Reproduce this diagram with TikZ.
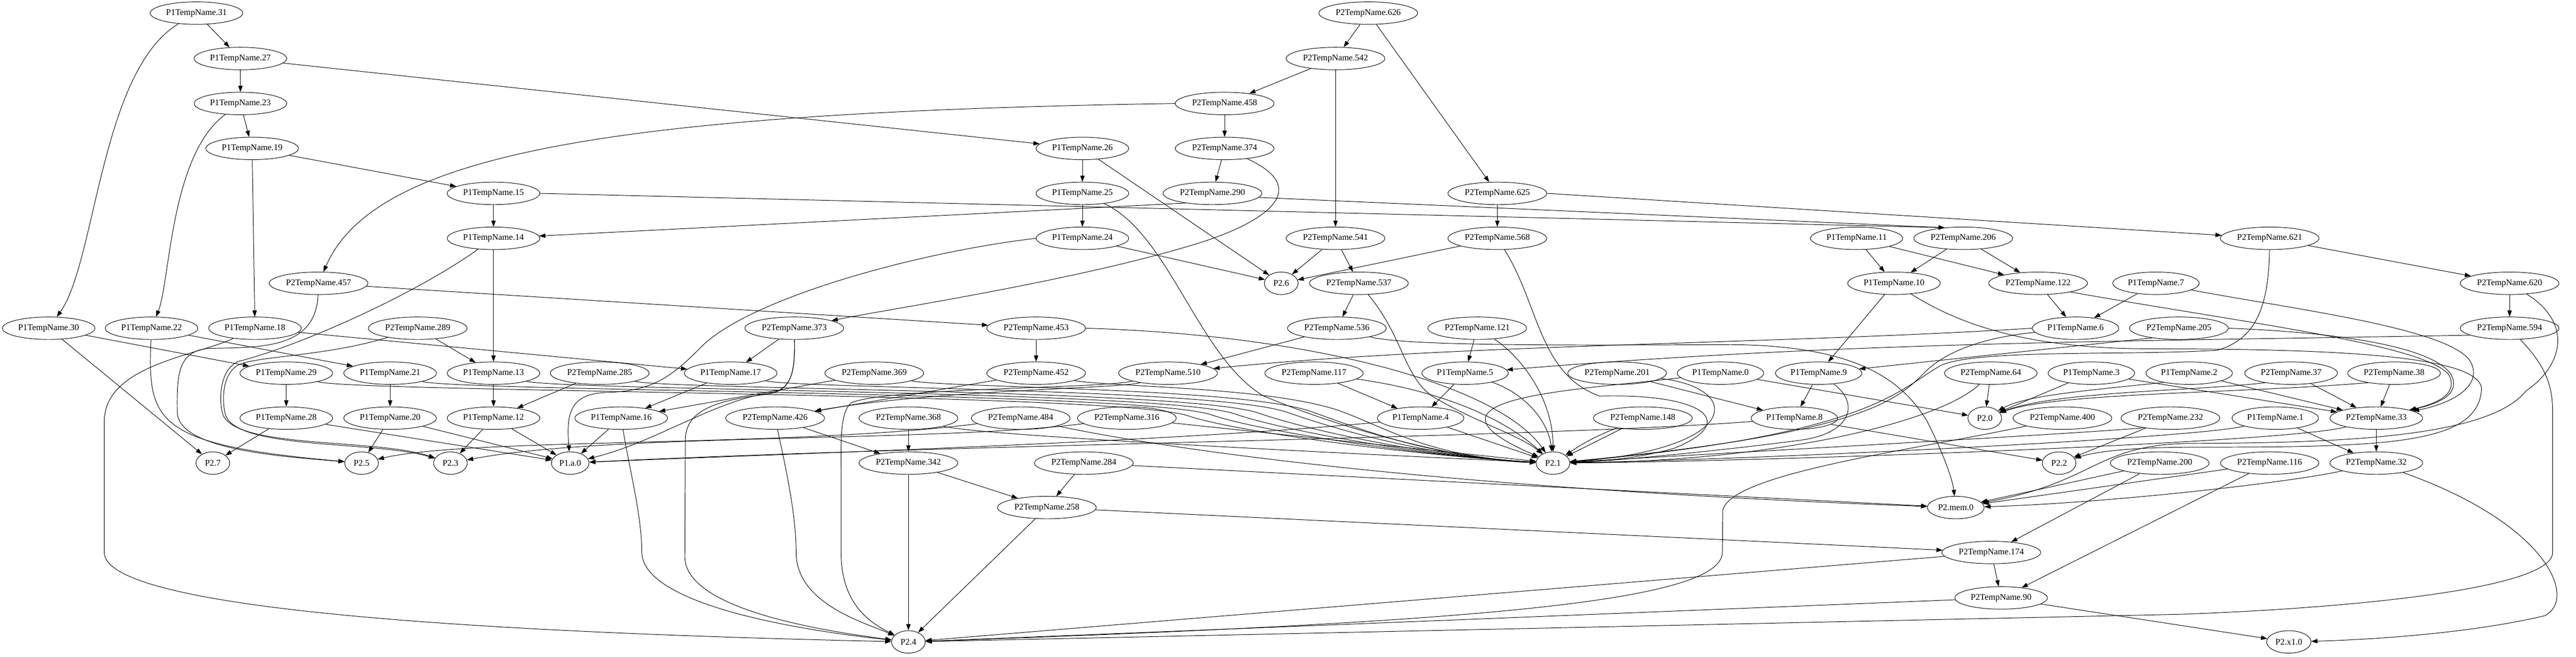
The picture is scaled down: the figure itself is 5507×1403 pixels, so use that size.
\documentclass[tikz,border=0pt]{standalone}
\usepackage{fontspec}
\setmainfont{Liberation Serif}
\usetikzlibrary{shapes.geometric,arrows.meta}
\tikzset{
  vtx/.style={ellipse, draw, line width=0.8pt, minimum width=54pt, minimum height=36pt,
    inner xsep=3.8pt, inner ysep=0pt, font=\fontsize{14pt}{16pt}\selectfont},
  flow/.style={line width=0.8pt, -{Triangle[length=10pt,width=7pt]}}
}
\begin{document}
\begin{tikzpicture}[x=0.75pt,y=-0.75pt]
\useasboundingbox (0,0) rectangle (5507,1403);
\fill [white] (0,0) rectangle (5507,1403);
\node [vtx] (a31) at (420,28) {P1TempName.31};
\node [vtx] (b626) at (2925,28) {P2TempName.626};
\node [vtx] (a27) at (514,125) {P1TempName.27};
\node [vtx] (b542) at (2855,125) {P2TempName.542};
\node [vtx] (a23) at (514,221) {P1TempName.23};
\node [vtx] (b458) at (2618,221) {P2TempName.458};
\node [vtx] (a19) at (539,317) {P1TempName.19};
\node [vtx] (a26) at (2314,317) {P1TempName.26};
\node [vtx] (b374) at (2618,317) {P2TempName.374};
\node [vtx] (a15) at (1055,413) {P1TempName.15};
\node [vtx] (a25) at (2314,413) {P1TempName.25};
\node [vtx] (b290) at (2592,413) {P2TempName.290};
\node [vtx] (b625) at (3201,413) {P2TempName.625};
\node [vtx] (a14) at (1055,509) {P1TempName.14};
\node [vtx] (a24) at (2314,509) {P1TempName.24};
\node [vtx] (b541) at (2855,509) {P2TempName.541};
\node [vtx] (b568) at (3201,509) {P2TempName.568};
\node [vtx] (a11) at (3969,509) {P1TempName.11};
\node [vtx] (b206) at (4197,509) {P2TempName.206};
\node [vtx] (b621) at (4852,509) {P2TempName.621};
\node [vtx] (b457) at (681,605) {P2TempName.457};
\node [vtx] (s6) at (2739,605) {P2.6};
\node [vtx] (b537) at (2905,605) {P2TempName.537};
\node [vtx] (a10) at (4049,605) {P1TempName.10};
\node [vtx] (b122) at (4357,605) {P2TempName.122};
\node [vtx] (a7) at (4609,605) {P1TempName.7};
\node [vtx] (b620) at (5365,605) {P2TempName.620};
\node [vtx] (a30) at (104,701) {P1TempName.30};
\node [vtx] (a22) at (324,701) {P1TempName.22};
\node [vtx] (a18) at (545,701) {P1TempName.18};
\node [vtx] (b289) at (893,701) {P2TempName.289};
\node [vtx] (b373) at (1698,701) {P2TempName.373};
\node [vtx] (b453) at (2215,701) {P2TempName.453};
\node [vtx] (b536) at (2858,701) {P2TempName.536};
\node [vtx] (b121) at (3158,701) {P2TempName.121};
\node [vtx] (a6) at (4437,701) {P1TempName.6};
\node [vtx] (b205) at (4658,701) {P2TempName.205};
\node [vtx] (b594) at (5365,701) {P2TempName.594};
\node [vtx] (a29) at (612,797) {P1TempName.29};
\node [vtx] (a21) at (834,797) {P1TempName.21};
\node [vtx] (a13) at (1055,797) {P1TempName.13};
\node [vtx] (b285) at (1282,797) {P2TempName.285};
\node [vtx] (a17) at (1562,797) {P1TempName.17};
\node [vtx] (b369) at (1869,797) {P2TempName.369};
\node [vtx] (b452) at (2215,797) {P2TempName.452};
\node [vtx] (b510) at (2497,797) {P2TempName.510};
\node [vtx] (b117) at (2809,797) {P2TempName.117};
\node [vtx] (a5) at (3132,797) {P1TempName.5};
\node [vtx] (b201) at (3457,797) {P2TempName.201};
\node [vtx] (a0) at (3678,797) {P1TempName.0};
\node [vtx] (a9) at (3888,797) {P1TempName.9};
\node [vtx] (b64) at (4256,797) {P2TempName.64};
\node [vtx] (a3) at (4471,797) {P1TempName.3};
\node [vtx] (a2) at (4680,797) {P1TempName.2};
\node [vtx] (b37) at (4898,797) {P2TempName.37};
\node [vtx] (b38) at (5118,797) {P2TempName.38};
\node [vtx] (a28) at (612,893) {P1TempName.28};
\node [vtx] (a20) at (834,893) {P1TempName.20};
\node [vtx] (a12) at (1055,893) {P1TempName.12};
\node [vtx] (a16) at (1328,893) {P1TempName.16};
\node [vtx] (b426) at (1657,893) {P2TempName.426};
\node [vtx] (b368) at (1942,893) {P2TempName.368};
\node [vtx] (b484) at (2182,893) {P2TempName.484};
\node [vtx] (b316) at (2409,893) {P2TempName.316};
\node [vtx] (a4) at (3037,893) {P1TempName.4};
\node [vtx] (b148) at (3512,893) {P2TempName.148};
\node [vtx] (a8) at (3836,893) {P1TempName.8};
\node [vtx] (s0) at (4243,893) {P2.0};
\node [vtx] (b400) at (4409,893) {P2TempName.400};
\node [vtx] (b232) at (4640,893) {P2TempName.232};
\node [vtx] (a1) at (4864,893) {P1TempName.1};
\node [vtx] (b33) at (5080,893) {P2TempName.33};
\node [vtx] (s7) at (455,989) {P2.7};
\node [vtx] (s5) at (773,989) {P2.5};
\node [vtx] (s3) at (963,989) {P2.3};
\node [vtx] (sa0) at (1219,989) {P1.a.0};
\node [vtx] (b342) at (1942,989) {P2TempName.342};
\node [vtx] (b284) at (2317,989) {P2TempName.284};
\node [vtx] (s1) at (3320,989) {P2.1};
\node [vtx] (s2) at (4402,989) {P2.2};
\node [vtx] (b200) at (4617,989) {P2TempName.200};
\node [vtx] (b116) at (4852,989) {P2TempName.116};
\node [vtx] (b32) at (5080,989) {P2TempName.32};
\node [vtx] (b258) at (2238,1084) {P2TempName.258};
\node [vtx] (smem) at (4181,1084) {P2.mem.0};
\node [vtx] (b174) at (4257,1180) {P2TempName.174};
\node [vtx] (b90) at (4278,1277) {P2TempName.90};
\node [vtx] (s4) at (1942,1371) {P2.4};
\node [vtx] (sx1) at (4893,1371) {P2.x1.0};

\draw [flow] (a31) -- (a27);
\draw [flow] (a31) .. controls (215,150) and (205,560) .. (a30);
\draw [flow] (a27) -- (a23);
\draw [flow] (a27) -- (a26);
\draw [flow] (a23) -- (a19);
\draw [flow] (a23) .. controls (364,330) and (364,600) .. (a22);
\draw [flow] (a19) -- (a15);
\draw [flow] (a19) -- (a18);
\draw [flow] (a15) -- (a14);
\draw [flow] (a15.east) -- (b206.150);
\draw [flow] (b290.200) -- (a14);
\draw [flow] (b290.355) -- (b206.150);
\draw [flow] (b626) -- (b542);
\draw [flow] (b626) -- (b625);
\draw [flow] (b542) -- (b458);
\draw [flow] (b542) -- (b541);
\draw [flow] (b458) -- (b374);
\draw [flow] (b458.west) .. controls (1300,240) and (800,330) .. (b457);
\draw [flow] (b374) -- (b290);
\draw [flow] (b374) .. controls (2800,400) and (2720,470) .. (2560,520) .. controls (2300,600) and (1900,660) .. (b373);
\draw [flow] (a26) -- (a25);
\draw [flow] (a26) -- (s6);
\draw [flow] (a25) -- (a24);
\draw [flow] (a25) .. controls (2500,500) and (2560,760) .. (2700,845) .. controls (2900,930) and (3150,985) .. (s1);
\draw [flow] (a24) -- (s6);
\draw [flow] (a24.west) .. controls (1950,540) and (1600,640) .. (1500,740) .. controls (1440,800) and (1400,835) .. (1300,838) .. controls (1220,840) and (1210,880) .. (sa0);
\draw [flow] (b625) -- (b568);
\draw [flow] (b625.east) -- (b621);
\draw [flow] (b541) -- (s6);
\draw [flow] (b541) -- (b537);
\draw [flow] (b568) -- (s6);
\draw [flow] (b568) .. controls (3290,650) and (3290,800) .. (3420,846) .. controls (3640,840) and (3720,900) .. (3580,957) .. controls (3500,980) and (3420,985) .. (s1);
\draw [flow] (a14) -- (a13);
\draw [flow] (a14) .. controls (870,640) and (620,745) .. (509,772) .. controls (470,790) and (468,850) .. (475,880) .. controls (490,960) and (800,935) .. (s3);
\draw [flow] (b457) -- (b453);
\draw [flow] (b457) .. controls (675,745) and (560,742) .. (446,744) .. controls (380,750) and (378,800) .. (379,880) .. controls (380,960) and (600,975) .. (s5);
\draw [flow] (b537) -- (b536);
\draw [flow] (b537) .. controls (3000,720) and (3000,800) .. (3060,845) .. controls (3150,900) and (3250,930) .. (s1);
\draw [flow] (a30) -- (a29);
\draw [flow] (a30) -- (s7);
\draw [flow] (a22) -- (a21);
\draw [flow] (a22) .. controls (315,900) and (330,950) .. (s5);
\draw [flow] (a18) -- (a17);
\draw [flow] (a18) .. controls (420,760) and (223,780) .. (223,900) -- (223,1180) .. controls (223,1300) and (1000,1350) .. (s4);
\draw [flow] (b289) -- (a13);
\draw [flow] (b289) .. controls (700,760) and (560,760) .. (512,778) .. controls (476,796) and (474,850) .. (481,882) .. controls (496,962) and (800,940) .. (s3);
\draw [flow] (b373) -- (a17);
\draw [flow] (b373) .. controls (1700,800) and (1690,835) .. (1640,840) .. controls (1520,860) and (1400,945) .. (sa0);
\draw [flow] (b373) .. controls (1700,800) and (1690,835) .. (1640,842) .. controls (1520,856) and (1466,880) .. (1465,940) -- (1464,1190) .. controls (1466,1290) and (1700,1340) .. (s4);
\draw [flow] (b453) -- (b452);
\draw [flow] (b453.east) .. controls (2800,715) and (3200,820) .. (s1);
\draw [flow] (b536) -- (b510);
\draw [flow] (b536) .. controls (3000,738) and (3300,738) .. (3700,736) .. controls (3950,738) and (4060,800) .. (4120,900) .. controls (4160,980) and (4175,1030) .. (smem);
\draw [flow] (b121) -- (a5);
\draw [flow] (b121) .. controls (3250,760) and (3320,850) .. (s1);
\draw [flow] (a6.west) .. controls (3800,735) and (3100,735) .. (b510);
\draw [flow] (a6) .. controls (4250,720) and (4170,745) .. (4120,790) .. controls (4060,850) and (4000,925) .. (s1);
\draw [flow] (b205.200) -- (a9);
\draw [flow] (b205.east) .. controls (5000,710) and (5200,740) .. (5240,800) .. controls (5260,840) and (5220,860) .. (b33);
\draw [flow] (b594.190) .. controls (4500,730) and (3950,730) .. (a5);
\draw [flow] (b594) .. controls (5440,780) and (5457,820) .. (5457,880) -- (5457,1180) .. controls (5457,1260) and (5000,1300) .. (4660,1312) -- (s4);
\draw [flow] (a11) -- (a10);
\draw [flow] (a11) -- (b122);
\draw [flow] (b206) -- (a10);
\draw [flow] (b206) -- (b122);
\draw [flow] (b621) -- (b620);
\draw [flow] (b621) .. controls (4850,660) and (4820,725) .. (4740,748) .. controls (4550,760) and (4230,745) .. (4150,780) .. controls (4060,830) and (4000,930) .. (s1);
\draw [flow] (a10) -- (a9);
\draw [flow] (a10) .. controls (4200,700) and (4350,745) .. (4600,745) .. controls (5000,745) and (5300,760) .. (5305,830) .. controls (5300,950) and (5100,955) .. (4700,955) .. controls (4550,955) and (4480,965) .. (s2);
\draw [flow] (b122) -- (a6);
\draw [flow] (b122.345) .. controls (4800,690) and (5180,735) .. (5235,800) .. controls (5255,840) and (5215,860) .. (b33);
\draw [flow] (a7) -- (a6);
\draw [flow] (a7) .. controls (4900,660) and (5230,700) .. (5280,770) .. controls (5310,820) and (5250,860) .. (b33);
\draw [flow] (b620) -- (b594);
\draw [flow] (b620) .. controls (5500,690) and (5480,780) .. (5400,835) .. controls (5320,935) and (5000,946) .. (4680,947) .. controls (4480,950) and (4480,1030) .. (smem);
\draw [flow] (a29) -- (a28);
\draw [flow] (a29) .. controls (762,838) and (2390,838) .. (2540,888) .. controls (2640,923) and (3050,975) .. (s1);
\draw [flow] (a21) -- (a20);
\draw [flow] (a21) .. controls (984,836) and (2440,836) .. (2590,886) .. controls (2690,921) and (3050,975) .. (s1);
\draw [flow] (a13) -- (a12);
\draw [flow] (a13) .. controls (1205,834) and (2490,834) .. (2640,884) .. controls (2740,919) and (3050,975) .. (s1);
\draw [flow] (b285) -- (a12);
\draw [flow] (b285) .. controls (1432,832) and (2540,832) .. (2690,882) .. controls (2790,917) and (3050,975) .. (s1);
\draw [flow] (a17) -- (a16);
\draw [flow] (a17) .. controls (1712,830) and (2600,830) .. (2750,880) .. controls (2850,915) and (3050,975) .. (s1);
\draw [flow] (b369) -- (a16);
\draw [flow] (b369) .. controls (2019,828) and (2650,828) .. (2800,878) .. controls (2900,913) and (3050,975) .. (s1);
\draw [flow] (b452) -- (b426);
\draw [flow] (b452) .. controls (2365,826) and (2710,826) .. (2860,876) .. controls (2960,911) and (3050,975) .. (s1);
\draw [flow] (b510) .. controls (2400,830) and (2000,832) .. (b426);
\draw [flow] (b510) .. controls (2350,830) and (1900,828) .. (1820,860) .. controls (1795,880) and (1798,950) .. (1798,1000) -- (1798,1180) .. controls (1798,1290) and (1860,1330) .. (s4);
\draw [flow] (b117) -- (a4);
\draw [flow] (b117) .. controls (3050,830) and (3200,880) .. (s1);
\draw [flow] (a5) -- (a4);
\draw [flow] (a5) .. controls (3260,840) and (3310,900) .. (s1);
\draw [flow] (b201) -- (a8);
\draw [flow] (b201) .. controls (3730,830) and (3720,960) .. (s1);
\draw [flow] (a0) -- (s0);
\draw [flow] (a0) .. controls (3350,835) and (3000,850) .. (s1);
\draw [flow] (a9) -- (a8);
\draw [flow] (a9) .. controls (3975,860) and (3960,925) .. (3850,940) .. controls (3700,960) and (3450,985) .. (s1);
\draw [flow] (b64) -- (s0);
\draw [flow] (b64) .. controls (4150,900) and (3800,985) .. (s1);
\draw [flow] (a3) -- (s0);
\draw [flow] (a3) -- (b33);
\draw [flow] (a2.200) .. controls (4450,835) and (4330,845) .. (s0);
\draw [flow] (a2) -- (b33);
\draw [flow] (b37.200) .. controls (4700,835) and (4400,835) .. (s0);
\draw [flow] (b37) -- (b33);
\draw [flow] (b38.200) .. controls (4800,840) and (4400,838) .. (s0);
\draw [flow] (b38) -- (b33);
\draw [flow] (a28) -- (s7);
\draw [flow] (a28) -- (sa0);
\draw [flow] (a20) -- (s5);
\draw [flow] (a20) -- (sa0);
\draw [flow] (a12) -- (s3);
\draw [flow] (a12) -- (sa0);
\draw [flow] (a16) -- (sa0);
\draw [flow] (a16) .. controls (1345,1000) and (1372,1100) .. (1372,1180) .. controls (1375,1290) and (1700,1345) .. (s4);
\draw [flow] (b426) -- (b342);
\draw [flow] (b426) .. controls (1680,1000) and (1702,1100) .. (1702,1180) .. controls (1702,1290) and (1850,1330) .. (s4);
\draw [flow] (b368) -- (b342);
\draw [flow] (b368) .. controls (2100,930) and (2800,965) .. (s1);
\draw [flow] (b484) .. controls (1700,955) and (1000,935) .. (s5);
\draw [flow] (b484) .. controls (2450,950) and (3000,1040) .. (smem);
\draw [flow] (b316) .. controls (2000,945) and (1300,925) .. (s3);
\draw [flow] (b316) -- (s1);
\draw [flow] (a4) -- (s1);
\draw [flow] (a4) .. controls (2500,945) and (1600,972) .. (sa0);
\draw [flow] (b148) -- (s1);
\draw [flow] (b148) to [bend right=6] (s1);
\draw [flow] (a8) -- (s2);
\draw [flow] (a8) .. controls (3300,935) and (2000,950) .. (sa0);
\draw [flow] (b400) .. controls (4100,960) and (3700,1010) .. (3683,1090) -- (3682,1180) .. controls (3680,1290) and (3100,1330) .. (s4);
\draw [flow] (b232) -- (s2);
\draw [flow] (b232.200) .. controls (4450,925) and (4000,950) .. (s1);
\draw [flow] (a1) -- (b32);
\draw [flow] (a1) .. controls (4700,935) and (3800,980) .. (s1);
\draw [flow] (b33) -- (b32);
\draw [flow] (b33) .. controls (4900,945) and (3800,985) .. (s1);
\draw [flow] (b342) -- (s4);
\draw [flow] (b342) -- (b258);
\draw [flow] (b284) -- (b258);
\draw [flow] (b284) -- (smem);
\draw [flow] (b200) -- (smem);
\draw [flow] (b200) -- (b174);
\draw [flow] (b116) -- (smem);
\draw [flow] (b116) -- (b90);
\draw [flow] (b32) .. controls (4900,1030) and (4500,1075) .. (smem);
\draw [flow] (b32) .. controls (5450,1120) and (5510,1280) .. (5440,1315) .. controls (5250,1360) and (5000,1368) .. (sx1);
\draw [flow] (b258) -- (s4);
\draw [flow] (b258) -- (b174);
\draw [flow] (b174) -- (b90);
\draw [flow] (b174) -- (s4);
\draw [flow] (b90) -- (s4);
\draw [flow] (b90) -- (sx1);
\end{tikzpicture}
\end{document}
